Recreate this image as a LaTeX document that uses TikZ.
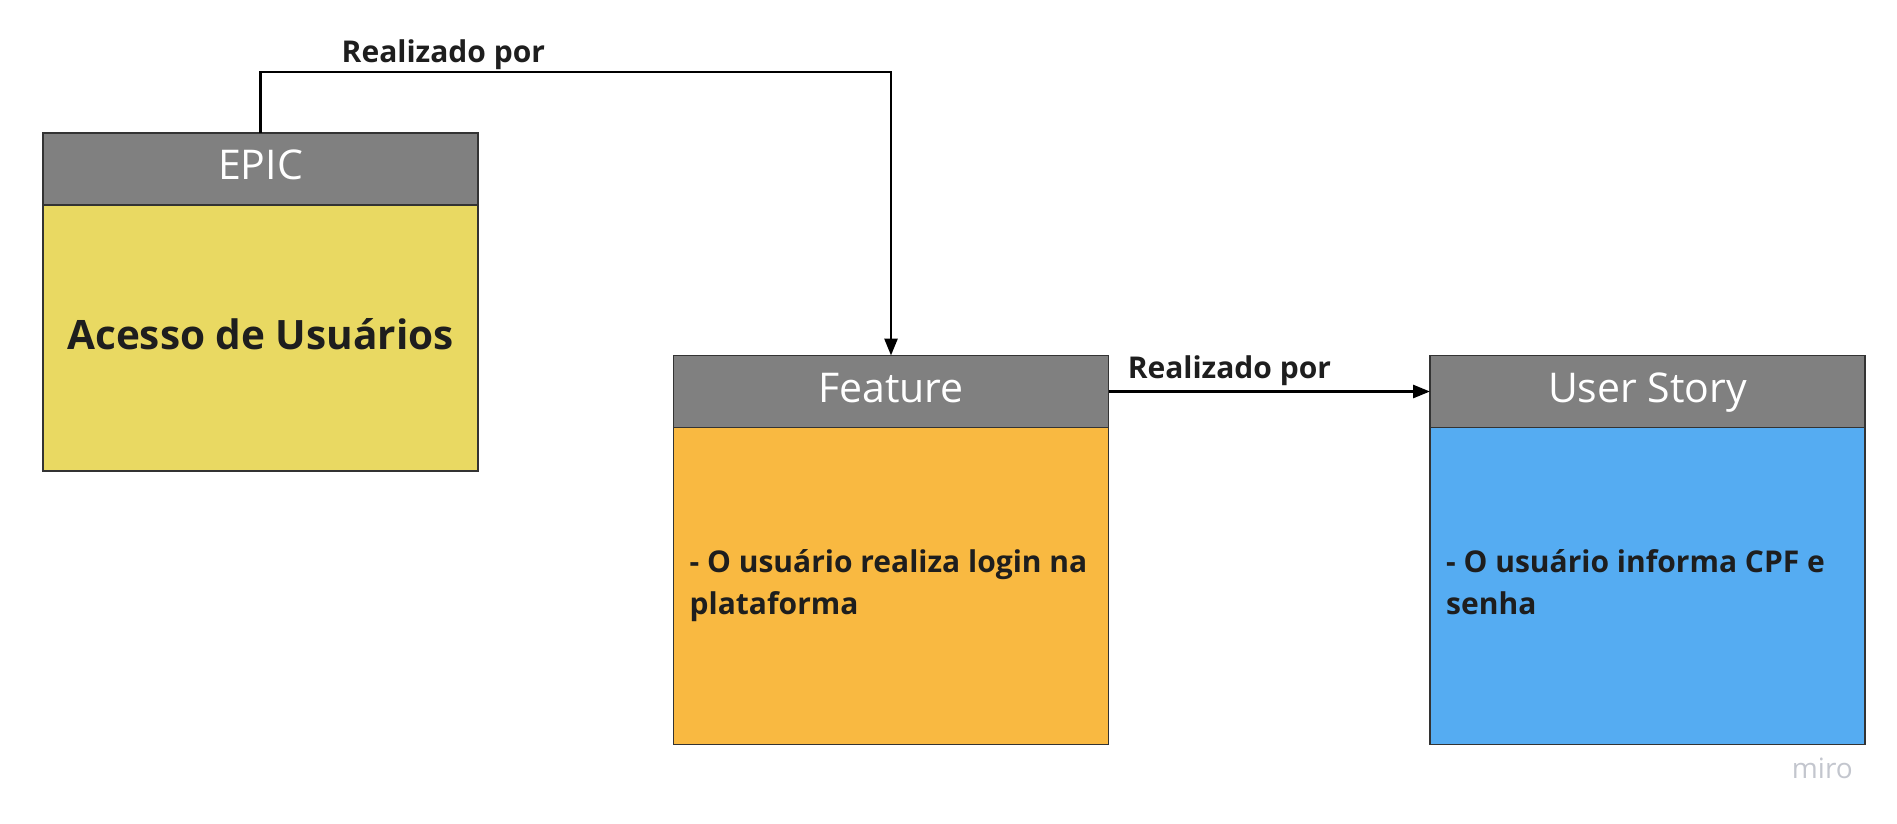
\documentclass[tikz,border=0pt]{standalone}
\usepackage{fontspec}
\setmainfont{Open Sans}
\usetikzlibrary{arrows.meta,positioning}
\definecolor{headgray}{HTML}{808080}
\definecolor{epicyellow}{HTML}{E9D962}
\definecolor{featorange}{HTML}{F9B941}
\definecolor{storyblue}{HTML}{55ACF2}
\definecolor{inkdark}{HTML}{1E1E1E}
\definecolor{mirogray}{HTML}{C3C6CE}

\begin{document}
\begin{tikzpicture}[x=1pt,y=1pt,>={Triangle[length=17pt,width=13pt]},
        head/.style={draw=black!80,fill=headgray,line width=1.2pt,outer sep=0pt,
          minimum width=435pt,minimum height=72pt,inner sep=0pt,text=white,
          font=\fontsize{41}{48}\selectfont,text height=30pt,text depth=9pt},
        body/.style={draw=black!80,line width=1.2pt,outer sep=0pt,
          minimum width=435pt,inner sep=0pt},
        card text/.style={text=inkdark,font=\fontsize{30}{42}\selectfont\bfseries,
          align=left,inner sep=0pt},
        link/.style={->,line width=2.8pt,draw=black},
        link label/.style={text=inkdark,font=\fontsize{30}{36}\selectfont\bfseries,
          inner sep=0pt,anchor=base}]
        \useasboundingbox (0,0) rectangle (1897,-823);

        % EPIC
        \node[head]                     at (260.5,-169)   (epicHead)  {EPIC};
        \node[body,fill=epicyellow,minimum height=266pt,below=0pt of epicHead] (epicBody) {};
        \node[card text,font=\fontsize{40.5}{48}\selectfont\bfseries,anchor=base]
                                        at ([yshift=-11pt]epicBody.center) (epicTxt) {Acesso de Usuários};

        % Feature
        \node[head]                     at (891,-391.5)   (featHead)  {Feature};
        \node[body,fill=featorange,minimum height=317pt,below=0pt of featHead] (featBody) {};
        \node[card text,anchor=base west]
                                        at ([xshift=16pt,yshift=-28.5pt]featBody.west) (featTxt)
                                        {- O usuário realiza login na\\plataforma};

        % User Story
        \node[head]                     at (1647.5,-391.5) (storyHead) {User Story};
        \node[body,fill=storyblue,minimum height=317pt,below=0pt of storyHead] (storyBody) {};
        \node[card text,anchor=base west]
                                        at ([xshift=16pt,yshift=-28.5pt]storyBody.west) (storyTxt)
                                        {- O usuário informa CPF e\\senha};

        \node[text=mirogray,font=\fontsize{28}{32}\selectfont,anchor=base east,inner sep=0pt]
                                        at (1853,-778)    (miroMark)  {miro};

        \draw[link] (epicHead.north) -- ++(0,61) -| node[link label,pos=0.145,yshift=10pt] {Realizado por} (featHead.north);
        \draw[link] (featHead.east) -- node[link label,pos=0.376,yshift=13pt] {Realizado por} (storyHead.west);
    \end{tikzpicture}
\end{document}
